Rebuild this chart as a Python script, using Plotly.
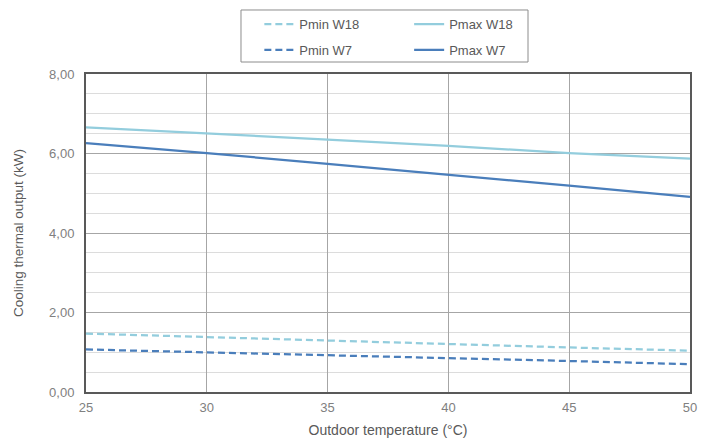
import plotly.graph_objects as go

temps = [25, 30, 35, 40, 45, 50]
pmin_w18 = [1.47, 1.38, 1.30, 1.21, 1.12, 1.04]
pmax_w18 = [6.66, 6.51, 6.35, 6.19, 6.01, 5.87]
pmin_w7 = [1.07, 1.00, 0.93, 0.85, 0.78, 0.70]
pmax_w7 = [6.26, 6.01, 5.74, 5.47, 5.19, 4.91]

light = "#93cddd"
dark = "#4a7ebb"
FONT = "Liberation Sans, Arial, sans-serif"

fig = go.Figure()
fig.add_trace(go.Scatter(x=temps, y=pmin_w18, mode="lines", name="Pmin W18", legend="legend",
                         line=dict(color=light, width=2.25, dash="7px,4px")))
fig.add_trace(go.Scatter(x=temps, y=pmax_w18, mode="lines", name="Pmax W18", legend="legend2",
                         line=dict(color=light, width=2.25)))
fig.add_trace(go.Scatter(x=temps, y=pmin_w7, mode="lines", name="Pmin W7", legend="legend3",
                         line=dict(color=dark, width=2.25, dash="7px,4px")))
fig.add_trace(go.Scatter(x=temps, y=pmax_w7, mode="lines", name="Pmax W7", legend="legend4",
                         line=dict(color=dark, width=2.25)))

leg_common = dict(
    orientation="v", yanchor="top", xanchor="left",
    bgcolor="rgba(0,0,0,0)", borderwidth=0,
    font=dict(family=FONT, size=13, color="#595959"),
)

row1, row2 = 1.204, 1.1226
col1, col2 = 0.287, 0.535

fig.update_layout(
    width=709, height=431,
    margin=dict(l=78, r=27, t=66, b=47, autoexpand=False),
    paper_bgcolor="white", plot_bgcolor="white",
    separators=",.",
    font=dict(family=FONT, color="#595959", size=12),
    showlegend=True,
    legend=dict(x=col1, y=row1, **leg_common),
    legend2=dict(x=col2, y=row1, **leg_common),
    legend3=dict(x=col1, y=row2, **leg_common),
    legend4=dict(x=col2, y=row2, **leg_common),
    shapes=[dict(type="rect", xref="paper", yref="paper",
                 x0=0.2566, x1=0.7318, y0=1.0377, y1=1.2013,
                 line=dict(color="#8c8c8c", width=1), fillcolor="rgba(0,0,0,0)")],
    xaxis=dict(
        range=[25, 50], dtick=5, tick0=25,
        showgrid=True, gridcolor="#a6a6a6", gridwidth=1,
        showline=True, linecolor="#595959", linewidth=2, mirror=True,
        ticks="", zeroline=False, automargin=False, ticklabelstandoff=2,
        tickfont=dict(family=FONT, color="#808080", size=13),
        title=dict(text="Outdoor temperature (°C)", font=dict(family=FONT, size=14, color="#595959"), standoff=12),
    ),
    yaxis=dict(
        range=[0, 8], dtick=2, tick0=0, tickformat=".2f",
        showgrid=True, gridcolor="#a6a6a6", gridwidth=1,
        minor=dict(dtick=0.5, showgrid=True, gridcolor="#dcdcdc", gridwidth=1),
        showline=True, linecolor="#595959", linewidth=2, mirror=True,
        ticks="", zeroline=False, automargin=False, ticklabelstandoff=7,
        tickfont=dict(family=FONT, color="#808080", size=13),
        title=dict(text="Cooling thermal output (kW)", font=dict(family=FONT, size=13.5, color="#595959"), standoff=22),
    ),
)

fig.write_html("out.html")
